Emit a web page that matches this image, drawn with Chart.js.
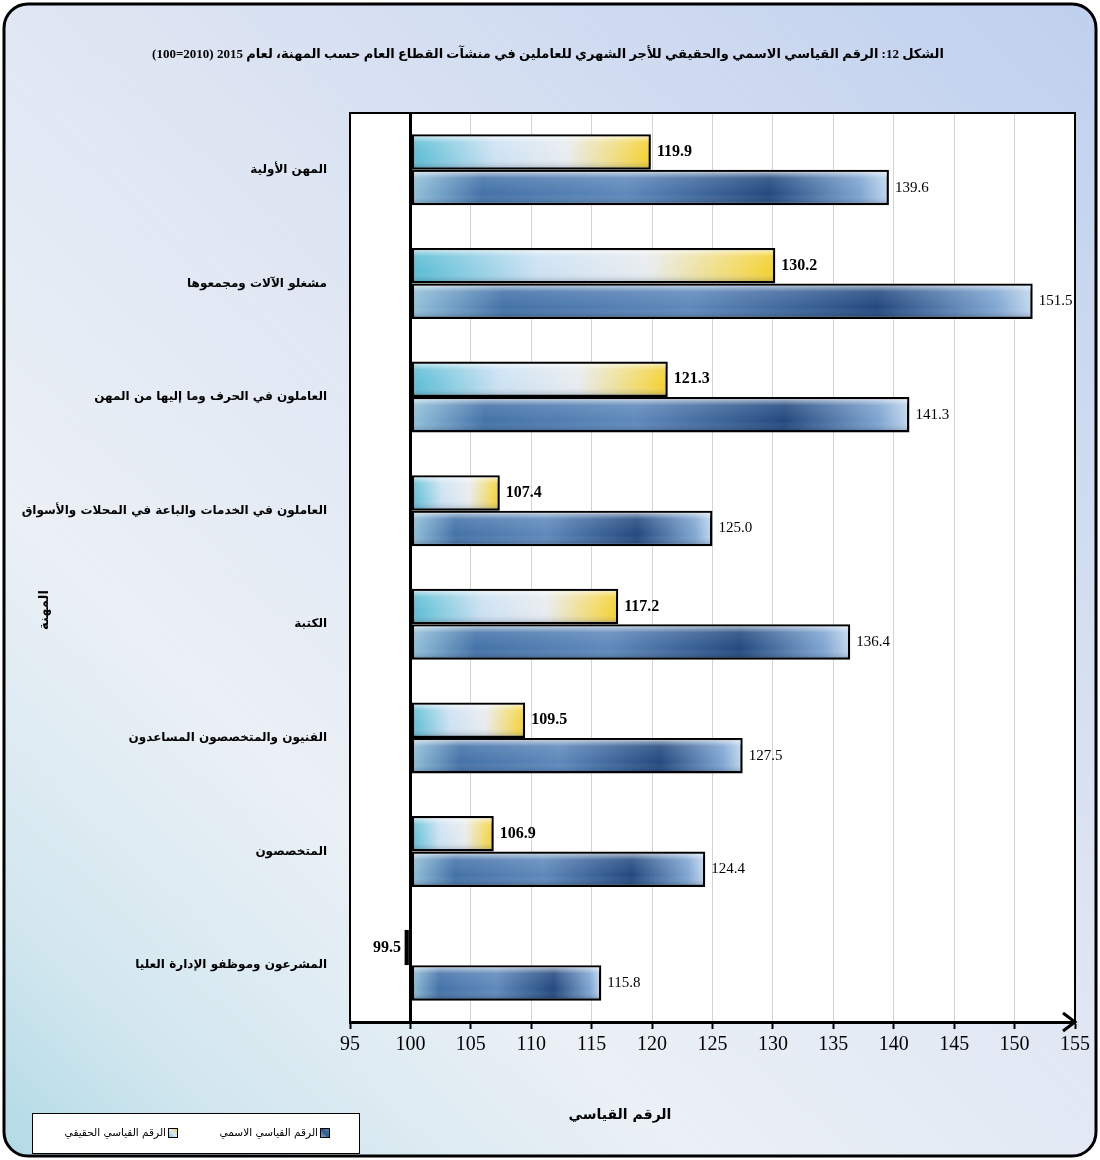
<!DOCTYPE html>
<html lang="ar">
<head>
    <meta charset="UTF-8">
    <title>الرقم القياسي الاسمي والحقيقي للأجر الشهري</title>
    <script src="https://cdn.jsdelivr.net/npm/chart.js"></script>
    <style>
        html, body { margin: 0; padding: 0; background: #fff; }
        #wrap { width: 1100px; height: 1160px; }
    </style>
</head>
<body>
    <div id="wrap"><canvas id="wageChart" width="1100" height="1160"></canvas></div>

    <script>
        // Data (2010 = 100)
        const categories = [
            'المهن الأولية',
            'مشغلو الآلات ومجمعوها',
            'العاملون في الحرف وما إليها من المهن',
            'العاملون في الخدمات والباعة في المحلات والأسواق',
            'الكتبة',
            'الفنيون والمتخصصون المساعدون',
            'المتخصصون',
            'المشرعون وموظفو الإدارة العليا'
        ];
        const realIndex = [119.9, 130.2, 121.3, 107.4, 117.2, 109.5, 106.9, 99.5];
        const nominalIndex = [139.6, 151.5, 141.3, 125.0, 136.4, 127.5, 124.4, 115.8];
        const seriesNames = ['الرقم القياسي الحقيقي', 'الرقم القياسي الاسمي'];
        const baseValue = 100;
        const axisMin = 95, axisMax = 155, axisStep = 5;

        const chartTitle = 'الشكل 12: الرقم القياسي الاسمي والحقيقي للأجر الشهري للعاملين في منشآت القطاع العام حسب المهنة، لعام 2015 (2010=100)';
        const xTitle = 'الرقم القياسي';
        const yTitle = 'المهنة';

        const arabicFont = "'DejaVu Sans', sans-serif";
        const numFont = "'Liberation Serif', 'DejaVu Sans', serif";

        // colour stops along each bar
        function realFill() {
            return [[0, '#56bcd4'], [0.35, '#cde2f3'], [0.65, '#e8ecef'], [0.9, '#f2da66'], [1, '#f4d02c']];
        }
        function nominalFill() {
            return [[0, '#95c4dc'], [0.15, '#4472a8'], [0.45, '#5f89bb'], [0.75, '#23497f'], [0.94, '#7fa6d2'], [1, '#c4d9ef']];
        }
        // smaller swatches in the legend
        function realSwatch() {
            return [[0, '#56bcd4'], [0.5, '#dfe8f0'], [1, '#f2cf2a']];
        }
        function nominalSwatch() {
            return [[0, '#95c4dc'], [0.5, '#2f5a92'], [1, '#5f89bb']];
        }
        function barGradient(stops) {
            return function (c) {
                const chart = c.chart;
                if (!chart.chartArea || c.raw === undefined) return '#4472a8';
                const xs = chart.scales.x;
                const p0 = xs.getPixelForValue(baseValue);
                const p1 = xs.getPixelForValue(c.raw);
                const g = chart.ctx.createLinearGradient(Math.min(p0, p1), 0, Math.max(p0, p1) + 0.01, 0);
                stops().forEach(s => g.addColorStop(s[0], s[1]));
                return g;
            };
        }

        function roundRect(ctx, x, y, w, h, r) {
            ctx.beginPath();
            ctx.moveTo(x + r, y);
            ctx.lineTo(x + w - r, y);
            ctx.arcTo(x + w, y, x + w, y + r, r);
            ctx.lineTo(x + w, y + h - r);
            ctx.arcTo(x + w, y + h, x + w - r, y + h, r);
            ctx.lineTo(x + r, y + h);
            ctx.arcTo(x, y + h, x, y + h - r, r);
            ctx.lineTo(x, y + r);
            ctx.arcTo(x, y, x + r, y, r);
            ctx.closePath();
        }

        // background, frame, titles, legend, arrow
        const decorations = {
            id: 'decorations',
            beforeDraw(chart) {
                const { ctx, width, height, chartArea: a } = chart;
                ctx.save();
                ctx.fillStyle = '#fff';
                ctx.fillRect(0, 0, width, height);
                const g = ctx.createLinearGradient(width, 0, 0, height);
                g.addColorStop(0, '#bfd0ee');
                g.addColorStop(0.45, '#dfe6f3');
                g.addColorStop(0.7, '#ebf0f6');
                g.addColorStop(0.88, '#d3e7ef');
                g.addColorStop(1, '#b0dae6');
                roundRect(ctx, 4, 4, width - 8, height - 8, 24);
                ctx.fillStyle = g;
                ctx.fill();
                ctx.fillStyle = '#fff';
                ctx.fillRect(a.left, a.top, a.right - a.left, a.bottom - a.top);
                ctx.restore();
            },
            afterDatasetsDraw(chart) {
                const { ctx } = chart;
                ctx.save();
                // bevel shading on each bar
                chart.data.datasets.forEach((ds, i) => {
                    chart.getDatasetMeta(i).data.forEach(bar => {
                        const left = Math.min(bar.x, bar.base) + 2;
                        const right = Math.max(bar.x, bar.base) - 2;
                        const top = bar.y - bar.height / 2 + 2;
                        const h = bar.height - 4;
                        if (right - left < 2) return;
                        const g = ctx.createLinearGradient(0, top, 0, top + h);
                        g.addColorStop(0, 'rgba(255,255,255,0.6)');
                        g.addColorStop(0.2, 'rgba(255,255,255,0.12)');
                        g.addColorStop(0.7, 'rgba(255,255,255,0)');
                        g.addColorStop(1, 'rgba(20,40,70,0.2)');
                        ctx.fillStyle = g;
                        ctx.fillRect(left, top, right - left, h);
                    });
                });
                // value labels
                ctx.fillStyle = '#000';
                ctx.textBaseline = 'middle';
                chart.data.datasets.forEach((ds, i) => {
                    ctx.font = (i === 0 ? 'bold 16px ' : '15px ') + numFont;
                    chart.getDatasetMeta(i).data.forEach((bar, j) => {
                        const v = ds.data[j];
                        const txt = v.toFixed(1);
                        if (v >= baseValue) {
                            ctx.textAlign = 'left';
                            ctx.fillText(txt, bar.x + 6, bar.y);
                        } else {
                            ctx.textAlign = 'right';
                            ctx.fillText(txt, bar.base - 8, bar.y);
                        }
                    });
                });
                ctx.restore();
            },
            afterDraw(chart) {
                const { ctx, width, height, chartArea: a } = chart;
                ctx.save();
                // plot frame top / right
                ctx.strokeStyle = '#000';
                ctx.lineWidth = 2;
                ctx.beginPath();
                ctx.moveTo(a.left, a.top);
                ctx.lineTo(a.right, a.top);
                ctx.lineTo(a.right, a.bottom);
                ctx.stroke();
                // arrow head on the value axis
                ctx.lineWidth = 3;
                ctx.beginPath();
                ctx.moveTo(a.right - 12, a.bottom - 9);
                ctx.lineTo(a.right, a.bottom);
                ctx.lineTo(a.right - 12, a.bottom + 9);
                ctx.stroke();
                // outer rounded border
                ctx.lineWidth = 3;
                roundRect(ctx, 4, 4, width - 8, height - 8, 24);
                ctx.stroke();

                ctx.fillStyle = '#000';
                ctx.direction = 'rtl';
                ctx.textBaseline = 'middle';
                ctx.textAlign = 'center';
                ctx.font = 'bold 13px ' + numFont;
                ctx.fillText(chartTitle, 548, 55);

                ctx.font = 'bold 14px ' + arabicFont;
                ctx.fillText(xTitle, 620, 1115);

                ctx.save();
                ctx.translate(45, 610);
                ctx.rotate(-Math.PI / 2);
                ctx.font = 'bold 13px ' + arabicFont;
                ctx.fillText(yTitle, 0, 0);
                ctx.restore();

                // legend box
                ctx.fillStyle = '#fff';
                ctx.fillRect(32, 1113, 327, 40);
                ctx.lineWidth = 1;
                ctx.strokeRect(32.5, 1113.5, 327, 40);
                const swatchRight = [178, 330];
                ctx.font = '10.5px ' + arabicFont;
                ctx.textAlign = 'right';
                chart.data.datasets.forEach((ds, i) => {
                    const sx = swatchRight[i] - 10, sy = 1128;
                    const g = ctx.createLinearGradient(sx, sy + 10, sx + 10, sy);
                    const stops = i === 0 ? realSwatch() : nominalSwatch();
                    stops.forEach(s => g.addColorStop(s[0], s[1]));
                    ctx.fillStyle = g;
                    ctx.fillRect(sx, sy, 10, 10);
                    ctx.strokeStyle = '#000';
                    ctx.strokeRect(sx + 0.5, sy + 0.5, 9, 9);
                    ctx.fillStyle = '#000';
                    ctx.fillText(ds.label, sx - 2, sy + 5);
                });
                ctx.restore();
            }
        };

        new Chart(document.getElementById('wageChart'), {
            type: 'bar',
            data: {
                labels: categories,
                datasets: [
                    {
                        label: seriesNames[0],
                        data: realIndex,
                        base: baseValue,
                        backgroundColor: barGradient(realFill),
                        borderColor: '#000',
                        borderWidth: 2.5,
                        borderSkipped: false
                    },
                    {
                        label: seriesNames[1],
                        data: nominalIndex,
                        base: baseValue,
                        backgroundColor: barGradient(nominalFill),
                        borderColor: '#000',
                        borderWidth: 2.5,
                        borderSkipped: false
                    }
                ]
            },
            options: {
                indexAxis: 'y',
                responsive: false,
                animation: false,
                devicePixelRatio: 1,
                categoryPercentage: 0.625,
                barPercentage: 1,
                layout: { padding: { top: 113, right: 25, left: 0, bottom: 0 } },
                plugins: {
                    legend: { display: false },
                    tooltip: { enabled: false }
                },
                scales: {
                    x: {
                        min: axisMin,
                        max: axisMax,
                        afterFit: s => { s.height = 138; },
                        ticks: {
                            stepSize: axisStep,
                            color: '#000',
                            padding: 4,
                            font: { family: numFont, size: 20 }
                        },
                        grid: {
                            color: c => (c.tick && c.tick.value === baseValue) ? '#000' : '#d4d4d4',
                            lineWidth: c => (c.tick && c.tick.value === baseValue) ? 3 : 1,
                            tickColor: '#000',
                            tickWidth: 2,
                            tickLength: 7
                        },
                        border: { color: '#000', width: 3 }
                    },
                    y: {
                        afterFit: s => { s.width = 350; },
                        ticks: {
                            color: '#000',
                            padding: 15,
                            font: { family: arabicFont, size: 12, weight: 'bold' }
                        },
                        grid: { display: false },
                        border: { color: '#000', width: 2 }
                    }
                }
            },
            plugins: [decorations]
        });
    </script>
</body>
</html>
